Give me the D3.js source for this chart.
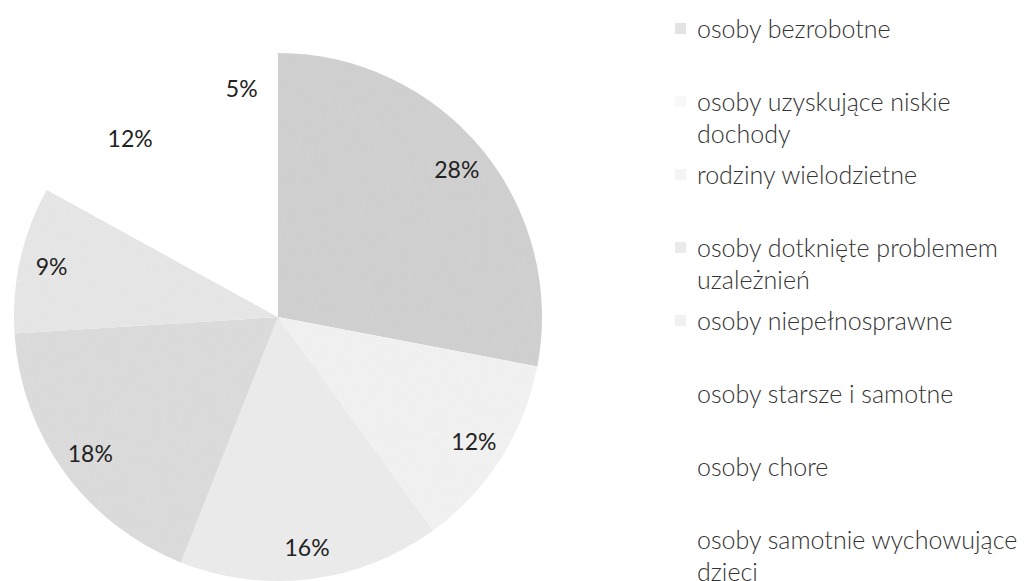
<!DOCTYPE html>
<html>
<head>
<meta charset="utf-8">
<script src="https://cdn.jsdelivr.net/npm/d3@7"></script>
<style>
  html, body { margin: 0; padding: 0; background: #fff; }
  svg { display: block; }
</style>
</head>
<body>
<svg id="chart" width="1028" height="581"></svg>
<script>
const categories = [
  "osoby bezrobotne",
  "osoby uzyskujące niskie dochody",
  "rodziny wielodzietne",
  "osoby dotknięte problemem uzależnień",
  "osoby niepełnosprawne",
  "osoby starsze i samotne",
  "osoby chore",
  "osoby samotnie wychowujące dzieci"
];
const values = [28, 12, 16, 18, 9, 12, 5, 0];
const legendLines = [
  ["osoby bezrobotne"],
  ["osoby uzyskujące niskie", "dochody"],
  ["rodziny wielodzietne"],
  ["osoby dotknięte problemem", "uzależnień"],
  ["osoby niepełnosprawne"],
  ["osoby starsze i samotne"],
  ["osoby chore"],
  ["osoby samotnie wychowujące", "dzieci"]
];
const colors = ["#d0d0d0", "#f3f3f3", "#ececec", "#dcdcdc", "#e7e7e7", "#ffffff", "#ffffff", "#ffffff"];

const svg = d3.select("#chart");
const cx = 278, cy = 317, R = 264;

// subtle scan-like grain
const defs = svg.append("defs");
const f = defs.append("filter").attr("id", "grain").attr("x", 0).attr("y", 0).attr("width", 1).attr("height", 1);
f.append("feTurbulence").attr("type", "fractalNoise").attr("baseFrequency", 0.9).attr("numOctaves", 1).attr("seed", 3).attr("result", "n");
f.append("feColorMatrix").attr("in", "n").attr("type", "matrix")
  .attr("values", "0 0 0 0 0.55  0 0 0 0 0.55  0 0 0 0 0.55  0 0 0 0.3 -0.1").attr("result", "na");
f.append("feComposite").attr("in", "na").attr("in2", "SourceGraphic").attr("operator", "in").attr("result", "nm");
f.append("feMerge").selectAll("feMergeNode").data(["SourceGraphic", "nm"]).join("feMergeNode").attr("in", d => d);

const pie = d3.pie().sort(null).value(d => d)(values);
const arc = d3.arc().innerRadius(0).outerRadius(R);
const labelArc = d3.arc().innerRadius(232).outerRadius(232);

const g = svg.append("g").attr("transform", `translate(${cx},${cy})`);
g.selectAll("path").data(pie).join("path")
  .attr("d", arc)
  .attr("fill", (d, i) => colors[i])
  .attr("filter", (d, i) => colors[i] === "#ffffff" ? null : "url(#grain)");

g.selectAll("text").data(pie.filter(d => d.value > 0)).join("text")
  .attr("transform", d => `translate(${labelArc.centroid(d)})`)
  .attr("text-anchor", "middle")
  .attr("dominant-baseline", "central")
  .attr("font-family", "Lato, 'Open Sans', sans-serif")
  .attr("font-size", 23)
  .attr("fill", "#222")
  .text(d => d.value + "%");

// legend
const lx = 697, ly0 = 28, step = 73, lineH = 32;
const leg = svg.append("g");
categories.forEach((c, i) => {
  const y = ly0 + i * step;
  leg.append("rect").attr("x", lx - 22).attr("y", y - 5).attr("width", 11).attr("height", 11)
    .attr("fill", colors[i]).attr("opacity", 0.6);
  const t = leg.append("text")
    .attr("x", lx).attr("y", y)
    .attr("dominant-baseline", "central")
    .attr("font-family", "Lato, 'Open Sans', sans-serif")
    .attr("font-size", 25)
    .attr("font-weight", 300)
    .attr("fill", "#333");
  legendLines[i].forEach((ln, k) => {
    t.append("tspan").attr("x", lx).attr("y", y + k * lineH).text(ln);
  });
});
</script>
</body>
</html>
